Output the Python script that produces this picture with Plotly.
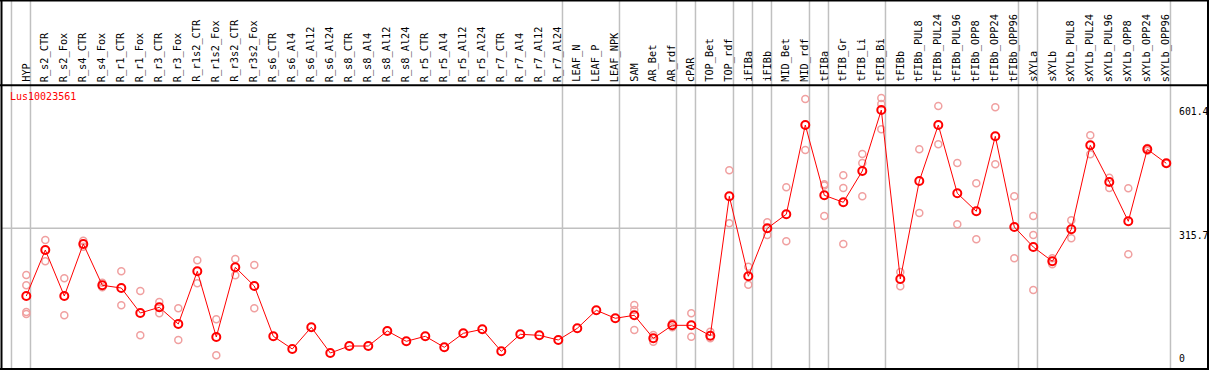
import plotly.graph_objects as go

# ---------------- data ----------------
gene_id = "Lus10023561"

categories = [
    "HYP", "R_s2_CTR", "R_s2_Fox", "R_s4_CTR", "R_s4_Fox", "R_r1_CTR", "R_r1_Fox",
    "R_r3_CTR", "R_r3_Fox", "R_r1s2_CTR", "R_r1s2_Fox", "R_r3s2_CTR", "R_r3s2_Fox",
    "R_s6_CTR", "R_s6_Al4", "R_s6_Al12", "R_s6_Al24", "R_s8_CTR", "R_s8_Al4",
    "R_s8_Al12", "R_s8_Al24", "R_r5_CTR", "R_r5_Al4", "R_r5_Al12", "R_r5_Al24",
    "R_r7_CTR", "R_r7_Al4", "R_r7_Al12", "R_r7_Al24", "LEAF_N", "LEAF_P", "LEAF_NPK",
    "SAM", "AR_Bet", "AR_rdf", "cPAR", "TOP_Bet", "TOP_rdf", "iFIBa", "iFIBb",
    "MID_Bet", "MID_rdf", "tFIBa", "tFIB_Gr", "tFIB_Li", "tFIB_Bi", "tFIBb",
    "tFIBb_PUL8", "tFIBb_PUL24", "tFIBb_PUL96", "tFIBb_OPP8", "tFIBb_OPP24",
    "tFIBb_OPP96", "sXYLa", "sXYLb", "sXYLb_PUL8", "sXYLb_PUL24", "sXYLb_PUL96",
    "sXYLb_OPP8", "sXYLb_OPP24", "sXYLb_OPP96",
]

mean_values = [
    160.7, 266.0, 160.7, 279.8, 185.2, 179.0, 121.8, 134.8, 96.6, 217.3, 66.9, 226.4, 183.6,
    68.5, 39.4, 89.1, 30.2, 46.2, 46.2, 80.6, 57.0, 68.5, 43.3, 75.3, 84.5, 34.1, 73.0, 70.7, 60.0,
    86.8, 128.0, 109.7, 116.5, 63.9, 93.6, 93.6, 69.8, 389.0, 205.8, 315.7, 347.8,
    552.2, 391.3, 375.2, 446.9, 586.5, 199.6, 424.0, 552.2, 395.8, 354.6, 526.3, 318.7,
    272.9, 240.2, 313.4, 505.7, 421.7, 331.7, 496.6, 464.5,
]

replicate_values = [
    [208.8, 185.2, 124.1, 119.5], [288.9, 240.2], [201.2, 116.5], [287.3, 273.6],
    [191.2, 180.6], [217.3, 139.4], [172.2, 70.7], [147.0, 121.1], [132.6, 60.0],
    [242.5, 189.8], [107.4, 25.0], [245.4, 208.1], [231.7, 132.6],
    [], [], [], [], [], [], [], [], [], [], [], [], [], [], [], [],
    [], [], [],
    [140.1, 128.7, 82.9], [71.4, 56.1], [98.2, 89.0], [121.1, 67.5], [79.0, 63.9],
    [448.5, 327.2], [227.8, 186.6], [329.4, 300.4], [409.6, 285.9],
    [611.7, 495.0], [416.4, 413.6, 343.9], [437.1, 408.0, 279.8], [485.8, 465.2, 389.0],
    [614.0, 600.3, 542.4], [215.7, 182.9], [496.6, 350.7], [595.7, 508.0],
    [465.2, 324.9], [418.7, 290.5], [592.7, 462.2], [389.0, 247.0],
    [343.9, 300.4, 174.5], [247.0, 233.3], [334.0, 292.8], [528.6, 485.1],
    [431.6, 408.0], [407.3, 256.2], [493.4, 499.8], [464.5, 464.5],
]

# group separators drawn after these category indices
separator_after = [-1, 0, 28, 31, 34, 35, 37, 38, 39, 41, 42, 45, 52, 53, 60]
reference_value = 315.7
axis_labels = ["601.4", "315.7", "0"]
axis_label_values = [601.4, 315.7, 0.0]

assert len(categories) == len(mean_values) == len(replicate_values)

# ---------------- geometry ----------------
W, H = 1209, 370
X0_PX, DX_PX = 26.3, 19.0          # pixel of first category, spacing
Y0_PX, KY = 366.2, 0.4368          # pixel of value 0, pixels per unit


def xpx_to_data(p):
    return (p - X0_PX) / DX_PX


def ypx_to_paper(p):
    return (H - p) / H


x_range = [xpx_to_data(0), xpx_to_data(W)]
y_range = [(Y0_PX - H) / KY, Y0_PX / KY]

idx = list(range(len(categories)))
RED = "#ff0000"
PINK = "#f0a0a0"
MONO = "DejaVu Sans Mono"

fig = go.Figure()

# replicates
rx, ry = [], []
for i, reps in enumerate(replicate_values):
    for v in reps:
        rx.append(i)
        ry.append(v)
fig.add_trace(go.Scatter(
    x=rx, y=ry, mode="markers",
    marker=dict(symbol="circle-open", size=7, color=PINK, line=dict(width=1.5, color=PINK)),
    hoverinfo="skip", showlegend=False,
))

# means
fig.add_trace(go.Scatter(
    x=idx, y=mean_values, mode="lines+markers",
    line=dict(color=RED, width=1),
    marker=dict(symbol="circle-open", size=8, color=RED, line=dict(width=2, color=RED)),
    text=categories, showlegend=False,
))

shapes = []
# group separators (full height)
for s in separator_after:
    xs = s + 0.22
    shapes.append(dict(type="line", xref="x", yref="paper", x0=xs, x1=xs, y0=0, y1=1,
                       line=dict(color="#c0c0c0", width=1.5), layer="below"))
# reference line
shapes.append(dict(type="line", xref="paper", yref="y",
                   x0=1 / W, x1=1170.7 / W, y0=reference_value, y1=reference_value,
                   line=dict(color="#c0c0c0", width=1.5), layer="below"))
# frame
black = dict(color="black", width=2)
shapes += [
    dict(type="line", xref="paper", yref="paper", x0=0, x1=1, y0=1 - 0.5 / H, y1=1 - 0.5 / H, line=black),
    dict(type="line", xref="paper", yref="paper", x0=0, x1=1, y0=ypx_to_paper(369), y1=ypx_to_paper(369), line=black),
    dict(type="line", xref="paper", yref="paper", x0=1.5 / W, x1=1.5 / W, y0=0, y1=1, line=black),
    dict(type="line", xref="paper", yref="paper", x0=1208 / W, x1=1208 / W, y0=0, y1=1, line=black),
    dict(type="line", xref="paper", yref="paper", x0=0, x1=1, y0=ypx_to_paper(85.3), y1=ypx_to_paper(85.3), line=black),
]

annotations = []
# category labels in header
for i, c in enumerate(categories):
    annotations.append(dict(
        x=i, xref="x", y=ypx_to_paper(84), yref="paper", text=c, textangle=-90,
        xanchor="center", yanchor="bottom", xshift=-1, showarrow=False,
        font=dict(family=MONO, size=10.3, color="black"),
    ))
# gene label
annotations.append(dict(
    x=8 / W, xref="paper", y=ypx_to_paper(89.5), yref="paper", text=gene_id,
    xanchor="left", yanchor="top", showarrow=False,
    font=dict(family=MONO, size=10, color=RED),
))
# right-hand value labels
for lab, v in zip(axis_labels, axis_label_values):
    annotations.append(dict(
        x=1176.5 / W, xref="paper", y=v, yref="y", text=lab,
        xanchor="left", yanchor="bottom" if v == 0 else "top", showarrow=False,
        font=dict(family=MONO, size=9.8, color="black"),
    ))

fig.update_layout(
    width=W, height=H, autosize=False,
    margin=dict(l=0, r=0, t=0, b=0, pad=0),
    paper_bgcolor="white", plot_bgcolor="white",
    xaxis=dict(range=x_range, visible=False, fixedrange=True),
    yaxis=dict(range=y_range, visible=False, fixedrange=True),
    shapes=shapes, annotations=annotations,
    showlegend=False,
)

fig.write_html(
    "out.html",
    config={"displayModeBar": False},
    post_script="document.body.style.margin='0';document.body.style.overflow='hidden';",
)
